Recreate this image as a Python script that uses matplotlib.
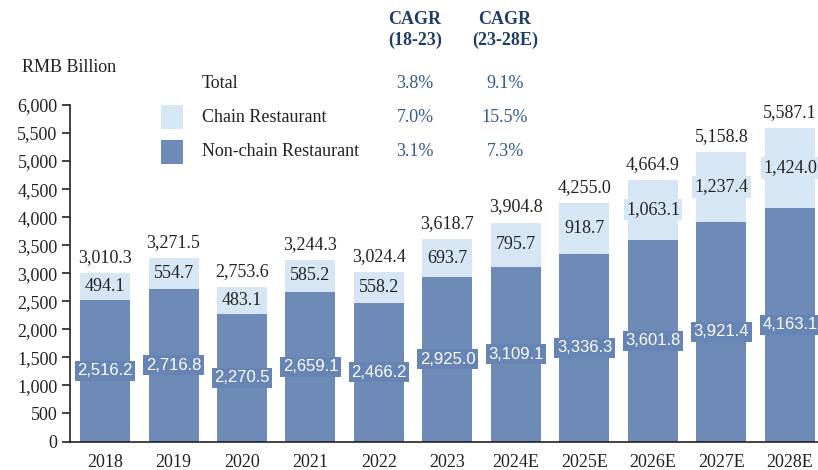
import numpy as np
import matplotlib.pyplot as plt

# data (RMB billion)
years = ["2018", "2019", "2020", "2021", "2022", "2023",
         "2024E", "2025E", "2026E", "2027E", "2028E"]
non_chain = [2516.2, 2716.8, 2270.5, 2659.1, 2466.2, 2925.0,
             3109.1, 3336.3, 3601.8, 3921.4, 4163.1]
chain = [494.1, 554.7, 483.1, 585.2, 558.2, 693.7,
         795.7, 918.7, 1063.1, 1237.4, 1424.0]
total = [3010.3, 3271.5, 2753.6, 3244.3, 3024.4, 3618.7,
         3904.8, 4255.0, 4664.9, 5158.8, 5587.1]

cagr_rows = ["Total", "Chain Restaurant", "Non-chain Restaurant"]
cagr_18_23 = ["3.8%", "7.0%", "3.1%"]
cagr_23_28 = ["9.1%", "15.5%", "7.3%"]

dark = "#6e8bb8"
light = "#d6e6f5"
navy = "#1f3d66"
val_col = "#34598a"
serif = ["Liberation Serif", "DejaVu Serif"]
sans = ["Liberation Sans", "DejaVu Sans"]

plt.rcParams["font.family"] = serif

fig = plt.figure(figsize=(8.18, 4.70), dpi=100)
ax = fig.add_axes([0.0856, 0.0606, 1 - 0.0856, 0.716])

x = np.arange(len(years))
w = 0.73
ax.bar(x, non_chain, width=w, color=dark, zorder=2)
ax.bar(x, chain, width=w, bottom=non_chain, color=light, zorder=2)

for i in range(len(years)):
    nc, ch, tt = non_chain[i], chain[i], total[i]
    ax.text(x[i], nc / 2, f"{nc:,.1f}", ha="center", va="center",
            color="white", fontsize=12, family=sans, zorder=3,
            bbox=dict(boxstyle="square,pad=0.15", fc="#6685b5", ec="none"))
    ax.text(x[i], nc + ch / 2, f"{ch:,.1f}", ha="center", va="center",
            color="#222222", fontsize=13, zorder=3,
            bbox=dict(boxstyle="square,pad=0.12", fc=light, ec="none"))
    ax.annotate(f"{tt:,.1f}", (x[i], tt), xytext=(0, 5),
                textcoords="offset points", ha="center", va="bottom",
                color="#222222", fontsize=13, annotation_clip=False)

ax.set_xlim(-0.511, 10.41)
ax.set_ylim(0, 6000)
ax.set_yticks(np.arange(0, 6001, 500))
ax.yaxis.set_major_formatter(plt.FuncFormatter(lambda v, p: f"{v:,.0f}"))
ax.set_xticks(x)
ax.set_xticklabels(years)
ax.tick_params(axis="y", length=6, width=1.2, labelsize=13,
               colors="#222222", pad=3)
ax.tick_params(axis="x", length=0, labelsize=13, colors="#222222", pad=9)
for s in ["top", "right"]:
    ax.spines[s].set_visible(False)
for s in ["left", "bottom"]:
    ax.spines[s].set_linewidth(1.2)
    ax.spines[s].set_color("#222222")

# header / legend / CAGR table in figure coordinates
W, H = 818, 470
def fx(px):
    return px / W
def fy(py):
    return 1 - py / H

fig.text(fx(22), fy(67), "RMB Billion", fontsize=13, va="center",
         color="#222222")
fig.text(fx(415), fy(30), "CAGR\n(18-23)", fontsize=13, weight="bold",
         color=navy, ha="center", va="center", linespacing=1.25)
fig.text(fx(505), fy(30), "CAGR\n(23-28E)", fontsize=13, weight="bold",
         color=navy, ha="center", va="center", linespacing=1.25)

row_y = [84, 117, 152]
for j, name in enumerate(cagr_rows):
    fig.text(fx(202), fy(row_y[j]), name, fontsize=13, va="center",
             color="#222222")
    fig.text(fx(415), fy(row_y[j]), cagr_18_23[j], fontsize=13,
             va="center", ha="center", color=val_col)
    fig.text(fx(505), fy(row_y[j]), cagr_23_28[j], fontsize=13,
             va="center", ha="center", color=val_col)

for py, col in [(117, light), (152, dark)]:
    fig.patches.append(plt.Rectangle((fx(161), fy(py + 12)), fx(22), 24 / H,
                                     transform=fig.transFigure,
                                     facecolor=col, edgecolor="none"))

fig.savefig("out.png", dpi=100)
